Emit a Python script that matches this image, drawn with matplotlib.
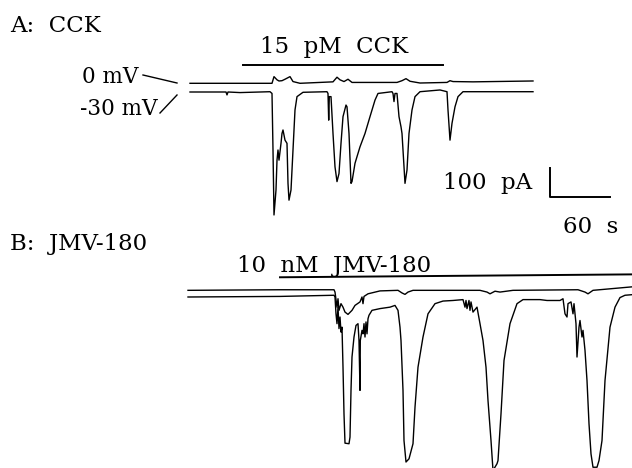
import matplotlib
matplotlib.use("Agg")
import matplotlib.pyplot as plt

# Panel A: CCK, time (s) and current (pA) at -30 mV and at 0 mV
a_m30_t = [0, 36, 37, 38, 50, 80, 82, 83, 84, 86, 87, 88, 89, 91, 92, 93, 95, 97, 98, 99,
           101, 103, 105, 107, 113, 137, 138, 138.7, 139.3, 141, 143, 145, 147, 149, 151,
           153, 156, 157, 159, 161, 162, 165, 167, 170, 175, 180, 185, 188, 202, 203, 204,
           205, 207, 209, 211, 212, 213, 215, 217, 219, 222, 225, 230, 250, 257, 258, 260,
           262, 265, 268, 273, 343]
a_m30_i = [0, 0, -10, 0, -2, 1, -5, -200, -424, -338, -235, -200, -235, -177, -143, -131,
           -166, -177, -315, -373, -338, -200, -62, -16, -1, 1, -5, -97, -16, -16, -143,
           -258, -309, -281, -177, -85, -45, -51, -143, -315, -309, -246, -223, -189, -143,
           -85, -28, -5, 1, -5, -33, -5, -5, -85, -120, -143, -200, -315, -269, -143, -62,
           -16, 1, 7, 1, -62, -166, -108, -51, -16, 1, 1]
a_0_t = [0, 82, 84, 87, 89, 92, 95, 100, 103, 110, 143, 147, 150, 154, 158, 162, 207, 212,
         216, 220, 230, 257, 260, 263, 283, 343]
a_0_i = [0, 0, 23, 12, 8, 9, 14, 23, 6, 0, 5, 21, 12, 6, 14, 3, 3, 9, 16, 7, 1, 3, 9, 6, 5, 8]

# Panel B: JMV-180
b_m30_t = [0, 92, 146, 147, 148, 149, 150, 151, 152, 153, 154, 155, 156, 157, 161, 162, 163,
           164, 166, 168, 170, 171, 172, 172.3, 174, 175, 176, 177, 178, 179, 180, 181, 184,
           192, 202, 207, 210, 212, 213, 215, 216, 218, 221, 225, 227, 230, 235, 240, 247,
           255, 265, 275, 277, 278, 279, 281, 282, 283, 285, 289, 292, 295, 298, 300, 303,
           305, 309, 310, 313, 316, 322, 329, 335, 352, 359, 372, 375, 377, 379, 380, 383,
           385, 386, 388, 389, 391, 392, 394, 395, 397, 399, 401, 403, 405, 409, 411, 414,
           417, 422, 427, 432, 437, 444]
b_m30_i = [0, 2, 6, 0, -58, -92, -35, -109, -69, -121, -104, -242, -403, -504, -506, -483,
           -322, -207, -138, -98, -92, -150, -322, -150, -115, -127, -92, -138, -86, -127,
           -75, -63, -46, -40, -35, -29, -46, -104, -150, -322, -495, -569, -558, -506,
           -380, -242, -138, -58, -23, -14, -12, -9, -35, -12, -40, -12, -46, -17, -52, -35,
           -92, -150, -242, -357, -495, -598, -575, -564, -403, -219, -92, -23, -9, -9, -12,
           -12, -6, -58, -69, -23, -17, -58, -23, -92, -207, -104, -81, -138, -115, -184,
           -288, -437, -541, -587, -587, -564, -495, -288, -104, -35, -2, 6, 8]
b_0_t = [0, 92, 146, 147, 149, 150, 151, 153, 155, 157, 160, 164, 167, 172, 174, 175, 176,
         180, 192, 210, 214, 217, 220, 225, 292, 299, 302, 307, 312, 325, 390, 397, 400, 405,
         444]
b_0_i = [0, 2, 2, -6, -58, -29, -69, -46, -58, -75, -83, -69, -52, -40, -23, -46, -21, -12,
         -2, 0, -9, -14, -6, 0, 0, -6, -12, -3, -6, 0, 2, -6, -12, 0, 12]

cck_on, cck_off = 53, 253
jmv_on, jmv_off = 92, 444
bar_pa, bar_s = 100, 60

W, H = 632, 468
PX_S = 1.0    # pixels per second
PX_PA = 0.29  # pixels per pA
FONT = "DejaVu Serif"

fig = plt.figure(figsize=(W / 100, H / 100), dpi=100)


def data_axes(x0, y0, top, bottom):
    # axes across the full width, t=0 at pixel column x0, 0 pA at pixel row y0
    ax = fig.add_axes([0, 1 - bottom / H, 1, (bottom - top) / H])
    ax.set_xlim(-x0 / PX_S, (W - x0) / PX_S)
    ax.set_ylim(-(bottom - y0) / PX_PA, (y0 - top) / PX_PA)
    ax.axis("off")
    return ax


# overlay in pixel units for the labels
ov = fig.add_axes([0, 0, 1, 1])
ov.set_xlim(0, W)
ov.set_ylim(H, 0)
ov.axis("off")

axA = data_axes(190, 92, 40, 234)
axB = data_axes(188, 297, 234, 468)

lw = 1.0
axA.plot(a_m30_t, a_m30_i, color="black", lw=lw)
axA.plot(a_0_t, [v + 30 for v in a_0_i], color="black", lw=lw)
axA.plot([cck_on, cck_off], [93, 93], color="black", lw=1.4)

# scale bar
axA.plot([360, 360, 360 + bar_s], [-362 + bar_pa, -362, -362], color="black", lw=1.4)

axB.plot(b_m30_t, b_m30_i, color="black", lw=lw)
axB.plot(b_0_t, [v + 23 for v in b_0_i], color="black", lw=lw)
axB.plot([jmv_on, jmv_off], [68, 78], color="black", lw=1.4, clip_on=False)

# labels
ov.text(10, 32, "A:  CCK", fontsize=16.5, family=FONT)
ov.text(334, 53, "15  pM  CCK", fontsize=16.5, family=FONT, ha="center")
ov.text(82, 83, "0 mV", fontsize=15.5, family=FONT)
ov.text(80, 115, "-30 mV", fontsize=15.5, family=FONT)
ov.plot([143, 177], [75, 83], color="black", lw=1.0)
ov.plot([160, 177], [113, 95], color="black", lw=1.0)
ov.text(443, 189, "100  pA", fontsize=16.5, family=FONT)
ov.text(563, 233, "60  s", fontsize=16.5, family=FONT)
ov.text(10, 250, "B:  JMV-180", fontsize=16.5, family=FONT)
ov.text(237, 272, "10  nM  JMV-180", fontsize=16.5, family=FONT)

fig.savefig("out.png", dpi=100)
